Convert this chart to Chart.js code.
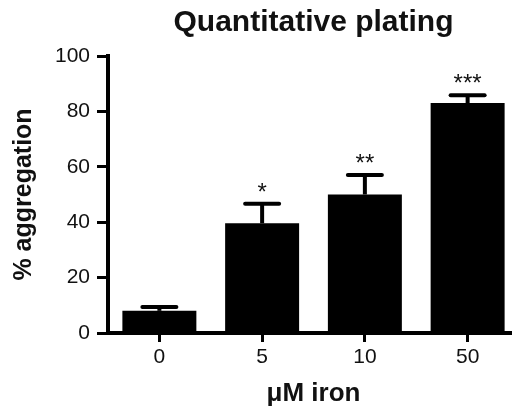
<!DOCTYPE html>
<html>
<head>
<meta charset="utf-8">
<script src="https://cdn.jsdelivr.net/npm/chart.js@4/dist/chart.umd.min.js"></script>
<style>
  html, body { margin: 0; padding: 0; overflow: hidden; background: #fff; }
</style>
</head>
<body>
<canvas id="chart" width="519" height="409"></canvas>
<script>
const labels = ["0", "5", "10", "50"];
const means = [8, 39.6, 50, 83];
const upper = [9.4, 46.7, 57, 85.8];   // mean + error
const stars = ["", "*", "**", "***"];
const yTicks = [0, 20, 40, 60, 80, 100];

const FONT = "'Liberation Sans', Arial, sans-serif";

// error bars + significance stars on top of the bars
const errorBars = {
    id: "errorBars",
    afterDatasetsDraw(chart) {
        const ctx = chart.ctx;
        const y = chart.scales.y;
        const meta = chart.getDatasetMeta(0);
        ctx.save();
        ctx.strokeStyle = "#000";
        ctx.fillStyle = "#111";
        meta.data.forEach((bar, i) => {
            const top = y.getPixelForValue(upper[i]);
            ctx.lineWidth = 4;
            ctx.lineCap = "butt";
            ctx.beginPath();
            ctx.moveTo(bar.x, bar.y);
            ctx.lineTo(bar.x, top);
            ctx.stroke();
            ctx.lineCap = "round";
            ctx.beginPath();
            ctx.moveTo(bar.x - 17, top);
            ctx.lineTo(bar.x + 17, top);
            ctx.stroke();
            if (stars[i]) {
                ctx.font = "24px " + FONT;
                ctx.textAlign = "center";
                ctx.textBaseline = "alphabetic";
                ctx.fillText(stars[i], bar.x, top - 4);
            }
        });
        ctx.restore();
    }
};

new Chart(document.getElementById("chart"), {
    type: "bar",
    data: {
        labels: labels,
        datasets: [{
            data: means,
            backgroundColor: "#000",
            borderWidth: 0,
            barPercentage: 0.72,
            categoryPercentage: 1
        }]
    },
    options: {
        responsive: false,
        devicePixelRatio: 1,
        animation: false,
        layout: { padding: 0 },
        plugins: {
            legend: { display: false },
            tooltip: { enabled: false },
            title: {
                display: true,
                text: "Quantitative plating",
                fullSize: false,
                color: "#111",
                font: { family: FONT, size: 30, weight: "bold", lineHeight: 1.2 },
                padding: { top: 5, bottom: 15 }
            }
        },
        scales: {
            x: {
                grid: { offset: false, drawOnChartArea: false, drawTicks: true, tickLength: 9, tickWidth: 3, tickColor: "#000" },
                border: { display: true, width: 4, color: "#000" },
                ticks: { color: "#111", padding: 3, font: { family: FONT, size: 21 } },
                title: {
                    display: true,
                    text: "μM iron",
                    color: "#111",
                    font: { family: FONT, size: 26, weight: "bold", lineHeight: 1 },
                    padding: { bottom: 2 }
                },
                afterFit: s => { s.height = 76; }
            },
            y: {
                min: 0,
                max: 100,
                afterBuildTicks: s => { s.ticks = yTicks.map(v => ({ value: v })); },
                grid: { drawOnChartArea: false, drawTicks: true, tickLength: 11, tickWidth: 3, tickColor: "#000" },
                border: { display: true, width: 4, color: "#000" },
                ticks: { color: "#111", padding: 7, font: { family: FONT, size: 21 } },
                title: {
                    display: true,
                    text: "% aggregation",
                    color: "#111",
                    font: { family: FONT, size: 25, weight: "bold", lineHeight: 1.2 },
                    padding: { top: 9 }
                },
                afterFit: s => { s.width = 108; }
            }
        }
    },
    plugins: [errorBars]
});
</script>
</body>
</html>
